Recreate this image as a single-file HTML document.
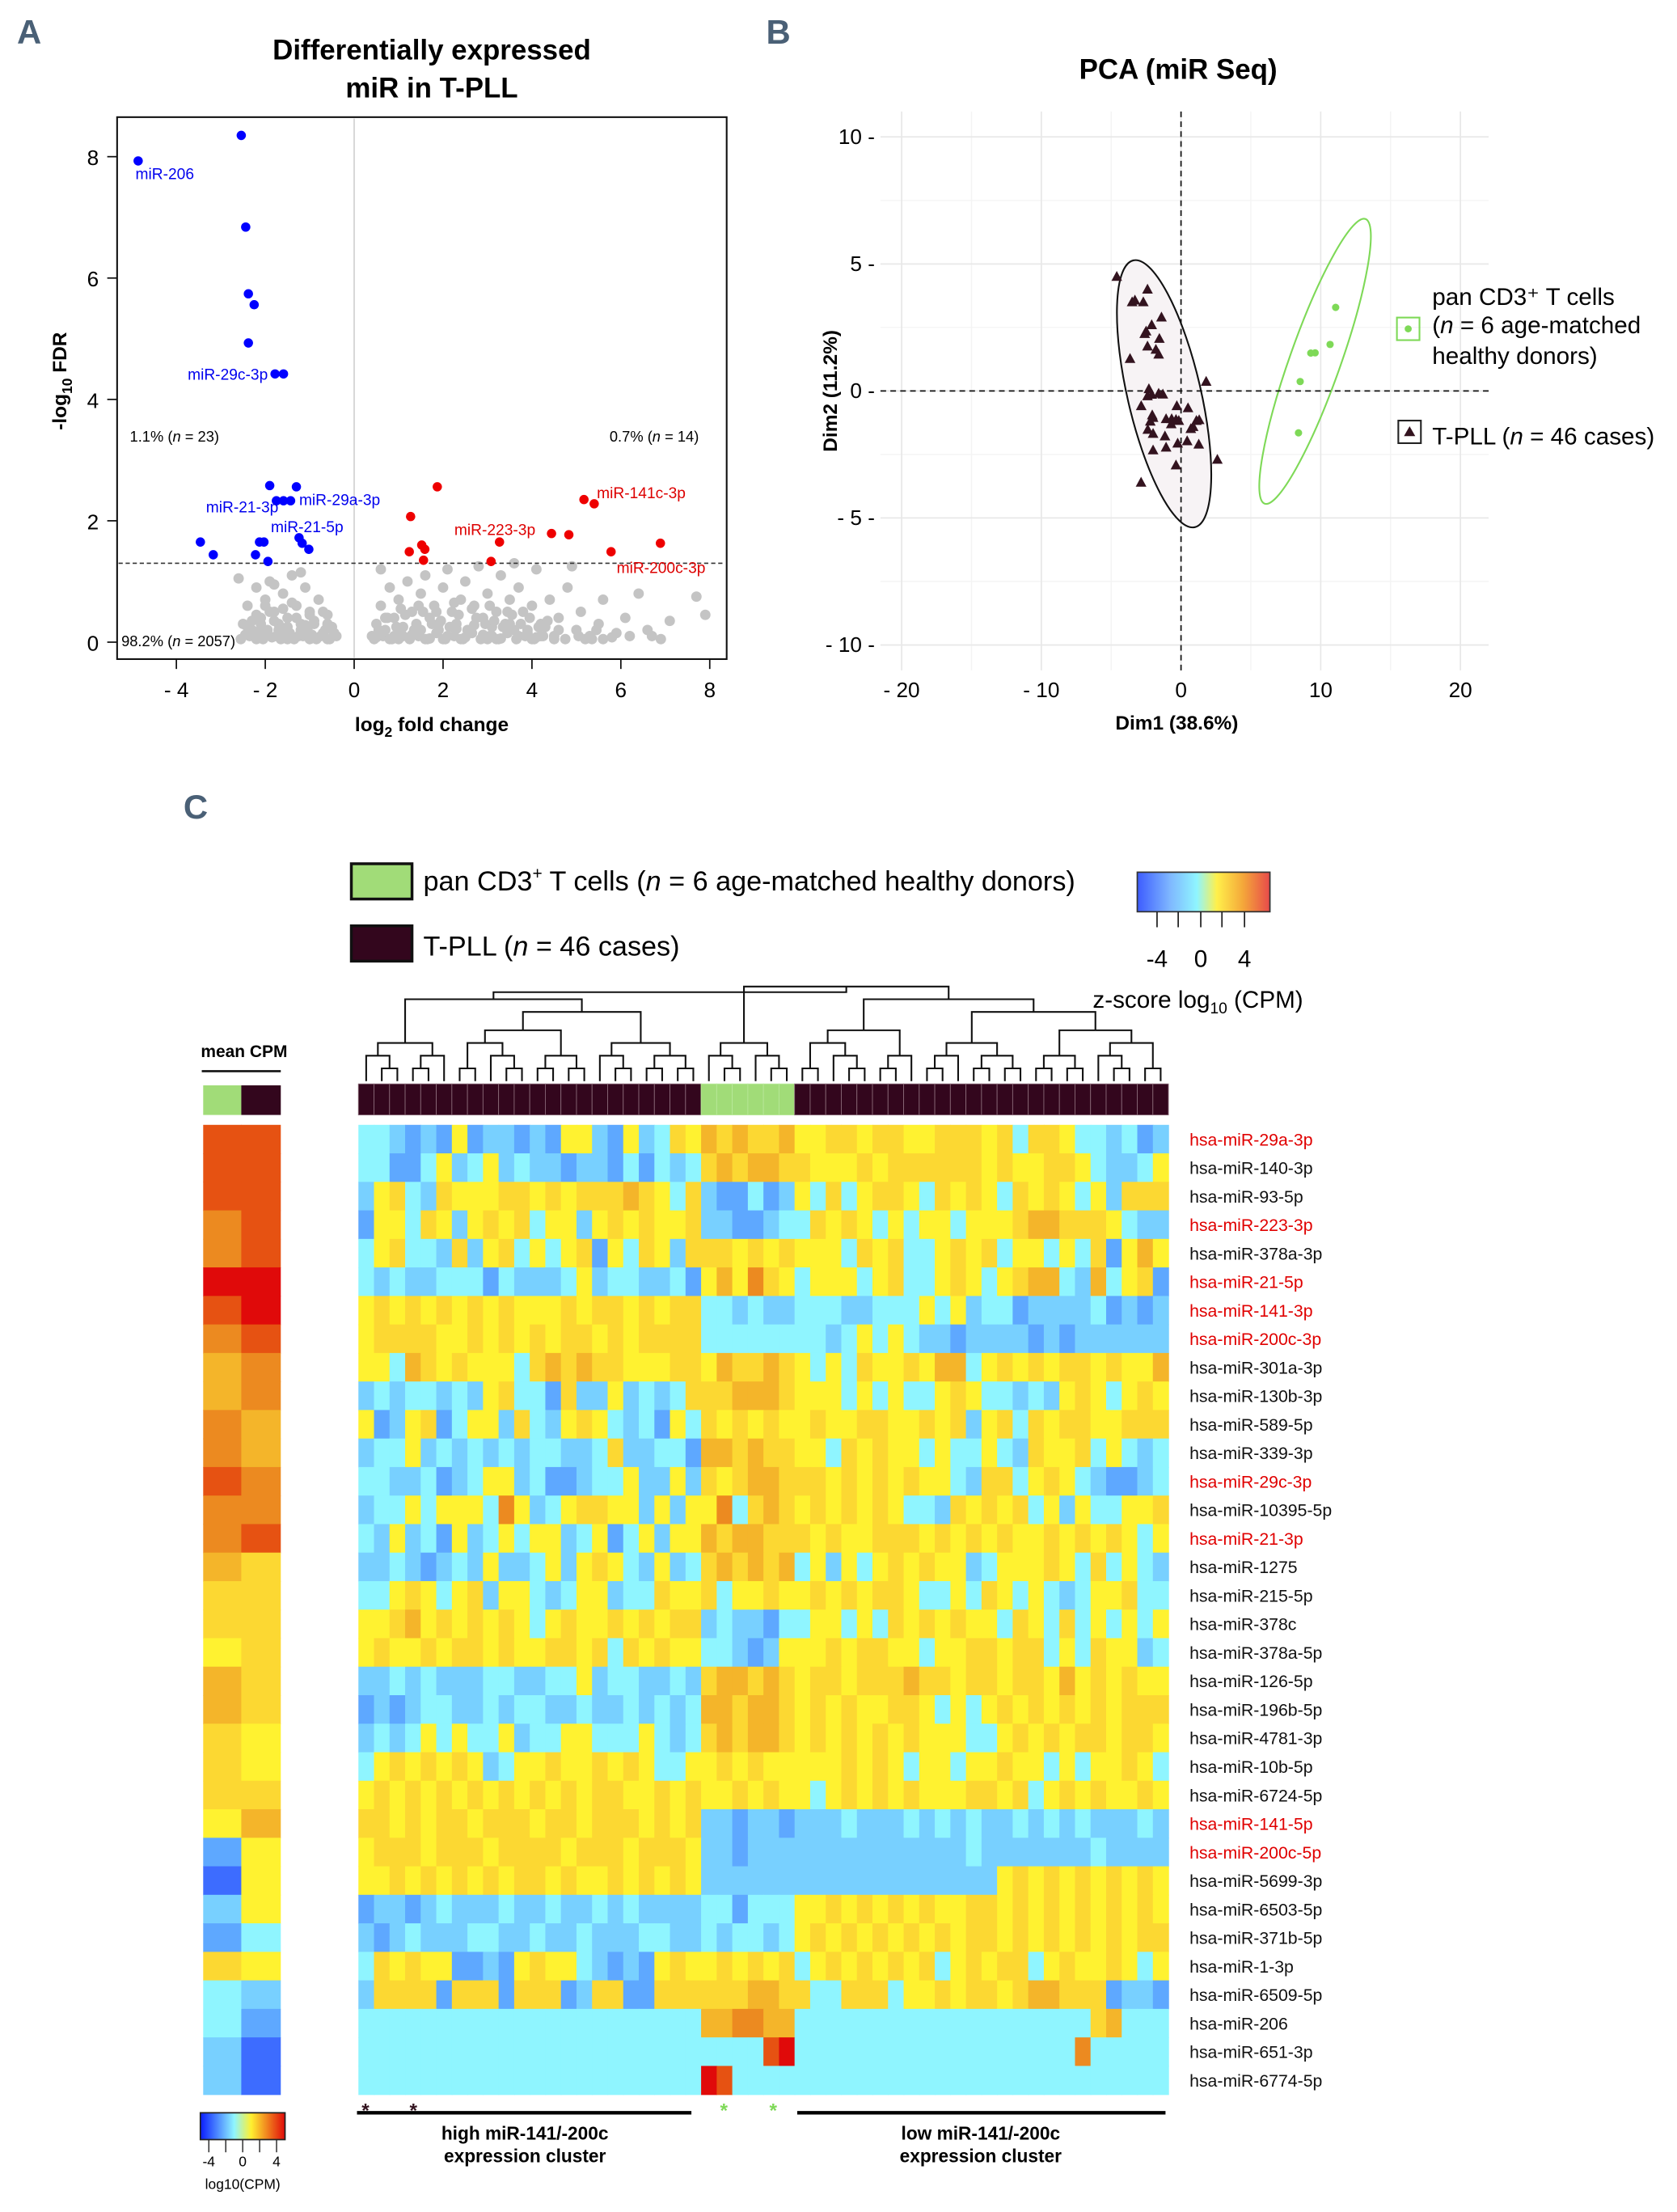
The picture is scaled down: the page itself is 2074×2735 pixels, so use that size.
<!DOCTYPE html>
<html><head><meta charset="utf-8">
<style>
html,body{margin:0;padding:0;background:#fff;}
svg{display:block;}
text{font-family:"Liberation Sans",sans-serif;}
.pl{font-family:"Liberation Sans Narrow","Liberation Sans",sans-serif;font-weight:bold;fill:#4a6076;font-size:24px;}
.nar{font-family:"Liberation Sans Narrow","Liberation Sans",sans-serif;}
</style></head>
<body>
<svg id="fig" width="2074" height="2735" viewBox="0 0 1188.5 1567.3" preserveAspectRatio="none" xmlns="http://www.w3.org/2000/svg">
<text class="pl" x="12" y="31">A</text>
<text x="306" y="42" text-anchor="middle" font-size="20" font-weight="bold">Differentially expressed</text>
<text x="306" y="69" text-anchor="middle" font-size="20" font-weight="bold">miR   in T-PLL</text>
<g id="volcano"></g>
<text transform="translate(47,270) rotate(-90)" text-anchor="middle" font-size="14" font-weight="bold">-log<tspan font-size="10" dy="4">10</tspan><tspan dy="-4"> FDR</tspan></text>
<text x="306" y="518" text-anchor="middle" font-size="14" font-weight="bold">log<tspan font-size="10" dy="4">2</tspan><tspan dy="-4"> fold change</tspan></text>
<text x="92" y="313" font-size="10.5">1.1% (<tspan font-style="italic">n</tspan> = 23)</text>
<text x="432" y="313" font-size="10.5">0.7% (<tspan font-style="italic">n</tspan> = 14)</text>
<text x="86" y="458" font-size="10.5">98.2% (<tspan font-style="italic">n</tspan> = 2057)</text>
<g font-size="11" fill="#0000ee">
<text x="96" y="127">miR-206</text>
<text x="133" y="269">miR-29c-3p</text>
<text x="146" y="363">miR-21-3p</text>
<text x="212" y="358">miR-29a-3p</text>
<text x="192" y="377">miR-21-5p</text>
</g>
<g font-size="11" fill="#dd0000">
<text x="322" y="379">miR-223-3p</text>
<text x="423" y="353">miR-141c-3p</text>
<text x="437" y="406">miR-200c-3p</text>
</g>

<text class="pl" x="543" y="31">B</text>
<text x="835" y="56" text-anchor="middle" font-size="20" font-weight="bold">PCA (miR Seq)</text>
<g id="pca"></g>
<text transform="translate(593,277) rotate(-90)" text-anchor="middle" font-size="14" font-weight="bold">Dim2 (11.2%)</text>
<text x="834" y="517" text-anchor="middle" font-size="14" font-weight="bold">Dim1 (38.6%)</text>
<g>
<rect x="990" y="225" width="16" height="16" fill="none" stroke="#7ed957" stroke-width="1.2"/>
<circle cx="998" cy="233" r="2.5" fill="#7ed957"/>
<text class="nar" x="1015" y="216" font-size="17">pan CD3⁺ T cells</text>
<text class="nar" x="1015" y="236" font-size="17">(<tspan font-style="italic">n</tspan> = 6 age-matched</text>
<text class="nar" x="1015" y="258" font-size="17">healthy donors)</text>
<rect x="991" y="298" width="16" height="16" fill="none" stroke="#222" stroke-width="1.2"/>
<path d="M999,302 L1003,309 L995,309 Z" fill="#33131f"/>
<text class="nar" x="1015" y="315" font-size="17">T-PLL (<tspan font-style="italic">n</tspan> = 46 cases)</text>
</g>

<text class="pl" x="130" y="580">C</text>
<rect x="249" y="612" width="43" height="25" fill="#a1dc78" stroke="#111" stroke-width="2"/>
<svg x="296" y="600" width="472" height="45" overflow="hidden"><text x="4" y="31" font-size="19.6">pan CD3<tspan font-size="12" dy="-8">+</tspan><tspan dy="8">  T cells (</tspan><tspan font-style="italic">n</tspan> = 6 age-matched healthy donors)</text></svg>
<rect x="249" y="656" width="43" height="25" fill="#33061d" stroke="#111" stroke-width="2"/>
<text x="300" y="677" font-size="19.6">T-PLL (<tspan font-style="italic">n</tspan> = 46 cases)</text>
<defs>
<linearGradient id="zg" x1="0" x2="1" y1="0" y2="0">
<stop offset="0" stop-color="#3d5cff"/><stop offset="0.25" stop-color="#7fb8ff"/><stop offset="0.45" stop-color="#8ff5ff"/><stop offset="0.6" stop-color="#fff04a"/><stop offset="0.8" stop-color="#f4a63a"/><stop offset="1" stop-color="#e84a4a"/>
</linearGradient>
<linearGradient id="cg" x1="0" x2="1" y1="0" y2="0">
<stop offset="0" stop-color="#0a1cff"/><stop offset="0.4" stop-color="#8ff5ff"/><stop offset="0.6" stop-color="#fff030"/><stop offset="1" stop-color="#e00a0a"/>
</linearGradient>
</defs>
<rect x="806" y="618" width="94" height="28" fill="url(#zg)" stroke="#333" stroke-width="1"/>
<g stroke="#222" stroke-width="1">
<line x1="820" y1="646" x2="820" y2="657"/><line x1="835" y1="646" x2="835" y2="657"/><line x1="851" y1="646" x2="851" y2="657"/><line x1="866" y1="646" x2="866" y2="657"/><line x1="882" y1="646" x2="882" y2="657"/>
</g>
<g font-size="17" text-anchor="middle">
<text x="820" y="685">-4</text>
<text x="851" y="685">0</text>
<text x="882" y="685">4</text>
</g>
<text x="849" y="714" text-anchor="middle" font-size="17">z-score log<tspan font-size="11" dy="4">10</tspan><tspan dy="-4"> (CPM)</tspan></text>
<text x="173" y="749" text-anchor="middle" font-size="12" font-weight="bold" class="nar">mean CPM</text>
<line x1="143" y1="759" x2="199" y2="759" stroke="#111" stroke-width="1.5"/>
<rect x="144" y="769" width="27" height="21" fill="#a1dc78"/>
<rect x="171" y="769" width="28" height="21" fill="#33061d"/>
<g id="heat"></g>
<g class="nar" font-weight="bold">
<text x="259" y="1500" font-size="14" text-anchor="middle" fill="#33131f">*</text>
<text x="293" y="1500" font-size="14" text-anchor="middle" fill="#33131f">*</text>
<text x="513" y="1500" font-size="14" text-anchor="middle" fill="#7ed957">*</text>
<text x="548" y="1500" font-size="14" text-anchor="middle" fill="#7ed957">*</text>
</g>
<line x1="253" y1="1497" x2="490" y2="1497" stroke="#000" stroke-width="2.5"/>
<line x1="565" y1="1497" x2="826" y2="1497" stroke="#000" stroke-width="2.5"/>
<g font-size="13" font-weight="bold" text-anchor="middle" class="nar">
<text x="372" y="1516">high miR-141/-200c</text>
<text x="372" y="1532">expression cluster</text>
<text x="695" y="1516">low miR-141/-200c</text>
<text x="695" y="1532">expression cluster</text>
</g>
<rect x="142" y="1497" width="60" height="19" fill="url(#cg)" stroke="#222" stroke-width="1"/>
<g stroke="#222" stroke-width="0.8">
<line x1="148" y1="1516" x2="148" y2="1525"/><line x1="160" y1="1516" x2="160" y2="1525"/><line x1="172" y1="1516" x2="172" y2="1525"/><line x1="184" y1="1516" x2="184" y2="1525"/><line x1="196" y1="1516" x2="196" y2="1525"/>
</g>
<g font-size="10" text-anchor="middle" class="nar">
<text x="148" y="1535">-4</text>
<text x="172" y="1535">0</text>
<text x="196" y="1535">4</text>
<text x="172" y="1551">log10(CPM)</text>
</g>
</svg>
<script>
// ===== Volcano data =====
const blueX = [-4.86,-2.54,-2.44,-2.38,-2.25,-2.38,-1.78,-1.59,-1.9,-1.75,-1.59,-1.43,-1.3,-3.46,-3.17,-2.13,-2.03,-2.22,-1.94,-1.24,-1.17,-1.02];
const blueY = [7.93,8.35,6.84,5.74,5.56,4.93,4.42,4.42,2.58,2.33,2.33,2.33,2.56,1.65,1.44,1.65,1.65,1.44,1.33,1.72,1.63,1.53];
const redX = [1.27,1.52,1.59,1.87,1.56,1.24,3.27,3.08,4.44,4.83,5.17,5.4,5.78,6.89];
const redY = [2.07,1.6,1.53,2.56,1.35,1.49,1.65,1.33,1.79,1.77,2.35,2.28,1.49,1.63];
const grayX = [-2.5,-2.4,-2.3,-2.2,-2.1,-2.0,-2.0,-1.9,-1.8,-1.7,-1.6,-1.5,-1.4,-1.3,-1.2,-1.1,-1.0,-0.9,-0.8,-0.7,-0.6,-0.5,-0.4,-1.5,-2.2,-1.0,-0.6,-1.8,-2.6,-1.2,-2.45,-2.15,-1.85,-1.55,-1.25,-0.95,-0.65,-2.3,-1.7,-1.1,
0.4,0.5,0.6,0.7,0.8,0.9,1.0,1.1,1.2,1.3,1.4,1.5,1.6,1.7,1.8,1.9,2.0,2.1,2.2,2.3,2.4,2.5,2.6,2.7,2.8,2.9,3.0,3.1,3.2,3.3,3.4,3.5,3.6,3.7,3.8,3.9,4.0,4.1,4.2,4.4,4.5,4.6,4.8,5.0,5.1,5.3,5.5,5.6,5.9,6.1,6.4,6.7,7.1,7.7,7.9,4.9,1.0,2.0,3.0,4.0,0.6,3.6,
0.5,0.9,1.3,1.7,2.1,2.5,2.9,3.3,3.7,4.1,4.5,1.1,1.5,1.9,2.3,2.7,3.1,3.5,3.9,4.3,0.7,5.2,5.8,6.9,
-2.55,-2.35,-2.25,-2.05,-1.95,-1.75,-1.65,-1.45,-1.35,-1.15,-1.05,-0.85,-0.75,-0.55,-0.45,-2.4,-2.1,-1.8,-1.5,-1.2,-0.9,-0.6,-2.2,-1.9,-1.6,-1.3,-1.0,-0.7,-2.0,-1.4,
0.45,0.65,0.85,1.05,1.25,1.45,1.65,1.85,2.05,2.25,2.45,2.65,2.85,3.05,3.25,3.45,3.65,3.85,4.05,4.25,0.55,0.95,1.35,1.75,2.15,2.55,2.95,3.35,3.75,4.15,0.75,1.15,1.55,1.95,2.35,2.75,3.15,3.55,3.95,4.35,4.6,4.75,5.05,5.35,5.45,1.05,1.45,1.85,2.25,2.65,3.05,3.45,0.8,1.6,2.4,3.2,4.2,5.6,6.2,6.6];
const grayY = [0.3,0.6,0.2,0.9,0.4,0.7,0.1,1.0,0.5,0.2,0.8,0.4,1.1,0.6,0.2,0.9,0.5,0.3,0.7,0.15,0.45,0.25,0.1,0.05,0.05,0.05,0.05,0.95,1.05,1.15,0.12,0.18,0.08,0.15,0.1,0.12,0.2,0.35,0.3,0.28,
0.1,0.3,0.6,0.2,0.9,0.4,0.7,0.1,1.0,0.5,0.3,0.8,1.1,0.4,0.6,0.2,0.9,1.2,0.5,0.3,0.7,1.0,0.2,0.6,1.25,0.4,0.8,0.1,0.5,1.1,0.3,0.7,0.2,0.9,0.5,0.15,0.6,1.2,0.3,0.7,0.1,0.4,0.9,0.2,0.5,0.1,0.3,0.7,0.15,0.4,0.8,0.1,0.35,0.75,0.45,1.25,0.05,0.05,0.05,0.05,1.2,1.3,
0.08,0.1,0.12,0.06,0.1,0.08,0.12,0.06,0.1,0.08,0.05,0.25,0.2,0.3,0.22,0.28,0.25,0.3,0.2,0.25,0.4,0.05,0.08,0.05,
0.05,0.1,0.15,0.05,0.2,0.1,0.05,0.15,0.05,0.1,0.2,0.05,0.1,0.05,0.15,0.25,0.3,0.35,0.25,0.3,0.35,0.3,0.45,0.5,0.55,0.4,0.45,0.5,0.6,0.65,
0.05,0.1,0.05,0.15,0.05,0.1,0.05,0.15,0.05,0.1,0.05,0.15,0.05,0.1,0.05,0.15,0.05,0.1,0.05,0.1,0.2,0.25,0.2,0.3,0.25,0.2,0.3,0.25,0.3,0.25,0.4,0.45,0.5,0.35,0.45,0.4,0.35,0.45,0.4,0.35,0.2,0.05,0.1,0.05,0.2,0.55,0.6,0.5,0.65,0.55,0.6,0.5,0.05,0.05,0.05,0.05,0.1,0.05,0.1,0.2];
const volXTicks = [-4,-2,0,2,4,6,8];
const volYTicks = [0,2,4,6,8];

// ===== PCA data =====
const tpllX = [-4.6,-2.4,-3.5,-3.3,-2.7,-1.4,-2.1,-2.5,-2.6,-1.55,-2.4,-1.8,-1.6,-3.65,1.8,-2.3,-2.1,-1.6,-1.3,-2.85,-0.3,0.5,-2.06,-2,-1.07,-0.67,-0.36,-0.16,1.1,1.3,-2.38,-2,0.87,0.7,-1.15,0.44,-0.24,1.27,-1.07,-2.0,2.6,-0.36,-2.86,-2.4,-2.2,-0.7];
const tpllY = [4.5,4.0,3.5,3.57,3.5,2.9,2.6,2.35,2.25,2.06,1.76,1.63,1.44,1.27,0.37,0.08,-0.14,-0.1,-0.13,-0.59,-0.59,-0.67,-0.95,-1.05,-1.1,-1.1,-1.13,-1.17,-1.17,-1.14,-1.52,-1.68,-1.41,-1.49,-1.78,-1.97,-2.06,-2.1,-2.22,-2.33,-2.7,-2.92,-3.6,-0.2,-1.2,-1.3];
const hdX = [11.07,10.67,9.29,8.53,8.41,9.6];
const hdY = [3.29,1.83,1.49,0.37,-1.65,1.5];
const pcaXTicks = [-20,-10,0,10,20];
const pcaYTicks = [-10,-5,0,5,10];

// ===== Heatmap data =====
const mirNames = ["hsa-miR-29a-3p","hsa-miR-140-3p","hsa-miR-93-5p","hsa-miR-223-3p","hsa-miR-378a-3p","hsa-miR-21-5p","hsa-miR-141-3p","hsa-miR-200c-3p","hsa-miR-301a-3p","hsa-miR-130b-3p","hsa-miR-589-5p","hsa-miR-339-3p","hsa-miR-29c-3p","hsa-miR-10395-5p","hsa-miR-21-3p","hsa-miR-1275","hsa-miR-215-5p","hsa-miR-378c","hsa-miR-378a-5p","hsa-miR-126-5p","hsa-miR-196b-5p","hsa-miR-4781-3p","hsa-miR-10b-5p","hsa-miR-6724-5p","hsa-miR-141-5p","hsa-miR-200c-5p","hsa-miR-5699-3p","hsa-miR-6503-5p","hsa-miR-371b-5p","hsa-miR-1-3p","hsa-miR-6509-5p","hsa-miR-206","hsa-miR-651-3p","hsa-miR-6774-5p"];
const redMirs = ["hsa-miR-29a-3p","hsa-miR-223-3p","hsa-miR-21-5p","hsa-miR-141-3p","hsa-miR-200c-3p","hsa-miR-29c-3p","hsa-miR-21-3p","hsa-miR-141-5p","hsa-miR-200c-5p"];
const zLevels = [
"3321214122121442142354"+"656556"+"445545544555453554332312",
"3311342342322122131323"+"565665"+"544454555555454455432234",
"2453254445545455565435"+"211312"+"435345543545435454342555",
"1443542454534424545445"+"221123"+"354543434434445665554322",
"3453325245343451435425"+"554545"+"444354533454534434351464",
"3232233313222342332231"+"464754"+"344434533454345663263451",
"4545454545444545545455"+"332322"+"333223334342331222231212",
"4555544545454554545555"+"333333"+"332343432212222121222222",
"4436545444356565544455"+"465565"+"434354454663454545545446",
"2323323245331522423235"+"556665"+"444343433454332324543454",
"4124513442532454323143"+"545454"+"454455445452453545544555",
"2334232323233223522331"+"665655"+"443545443433432544534323",
"3322312344231123342242"+"545665"+"554545454432553454321123",
"2334344437423455442424"+"473565"+"454545433254545342433445",
"3242314234344234134244"+"656655"+"545445554545454454545434",
"2232123242234245432423"+"565656"+"342434545442344454353432",
"3345434524432344233544"+"534454"+"454545543343543432344533",
"4456454545434544545455"+"232213"+"344343545454435435343434",
"4544545545445545354544"+"332124"+"445455443445545534354423",
"2232322233223342332232"+"566565"+"455455565545545546454544",
"1212332232332232232323"+"665665"+"454544554343454545454555",
"2323434334233443334323"+"565665"+"454545454443345454554554",
"3454545423445445454334"+"454544"+"444545434434454434344543",
"4545454545454545544545"+"445454"+"434545454445545345454454",
"5545455455545545554545"+"221221"+"222322232323223232322232",
"4555455545555455545554"+"221222"+"222222222223222222232222",
"4454545454554544545454"+"222222"+"222222222222245454545454",
"1221232223223223232222"+"331333"+"445454545445545454545454",
"2123222332232232223322"+"323323"+"454545454545545454545455",
"3545441121454432121454"+"454545"+"345454545345455345445434",
"2555515551555125511555"+"555665"+"533555344545545665551221",
"3333333333333333333333"+"667766"+"333333333333333333356333",
"3333333333333333333333"+"333389"+"333333333333333333733333",
"3333333333333333333333"+"983333"+"333333333333333333333333"
];
const meanHealthy = [8,8,8,7,7,9,8,7,6,6,7,7,8,7,7,6,5,5,4,6,6,5,5,5,4,1,0,2,1,5,3,3,2,2];
const meanTpll    = [8,8,8,8,8,9,9,8,7,7,6,6,7,7,8,5,5,5,5,5,5,4,4,5,6,4,4,4,3,4,2,1,0,0];

const NS = "http://www.w3.org/2000/svg";
function mk(tag, attrs, parent){
  const e = document.createElementNS(NS, tag);
  for (const k in attrs) e.setAttribute(k, attrs[k]);
  parent.appendChild(e);
  return e;
}

// ---------- Volcano ----------
const vol = document.getElementById('volcano');
const vx = v => 251 + v*31.5;
const vy = v => 455 - v*43;
let el;
el = mk('line',{x1:vx(0),y1:84,x2:vx(0),y2:466,stroke:'#c8c8c8','stroke-width':0.8},vol);


for (let i=0;i<grayX.length;i++){
  el = mk('circle',{cx:vx(grayX[i]),cy:vy(grayY[i]),r:3.7,fill:'#c4c4c4'},vol);
  
  
}
el = mk('line',{x1:84,y1:vy(1.3),x2:514,y2:vy(1.3),stroke:'#333','stroke-width':0.9,'stroke-dasharray':'3,2'},vol);


for (let i=0;i<blueX.length;i++){
  el = mk('circle',{cx:vx(blueX[i]),cy:vy(blueY[i]),r:3.3,fill:'#0000ff'},vol);
  
  
}
for (let i=0;i<redX.length;i++){
  el = mk('circle',{cx:vx(redX[i]),cy:vy(redY[i]),r:3.3,fill:'#ee0000'},vol);
  
  
}
el = mk('rect',{x:83,y:83,width:432,height:384,fill:'none',stroke:'#111','stroke-width':1.2},vol);


volXTicks.forEach(t=>{
  el = mk('line',{x1:vx(t),y1:467,x2:vx(t),y2:474,stroke:'#111','stroke-width':1},vol);
  
  
  el = mk('text',{x:vx(t),y:494,'text-anchor':'middle','font-size':15},vol);
  el.textContent = t<0 ? '- '+(-t) : String(t);
  
  
});
volYTicks.forEach(t=>{
  el = mk('line',{x1:76,y1:vy(t),x2:83,y2:vy(t),stroke:'#111','stroke-width':1},vol);
  
  
  el = mk('text',{x:70,y:vy(t)+6,'text-anchor':'end','font-size':15},vol);
  el.textContent = String(t);
  
  
});

// ---------- PCA ----------
const pca = document.getElementById('pca');
const px = v => 837 + v*9.9;
const py = v => 277 - v*18;
[-15,-5,5,15].forEach(t=>{
  el = mk('line',{x1:px(t),y1:79,x2:px(t),y2:475,stroke:'#f4f4f4','stroke-width':0.8},pca);
  
  
});
[-7.5,-2.5,2.5,7.5].forEach(t=>{
  el = mk('line',{x1:624,y1:py(t),x2:1055,y2:py(t),stroke:'#f4f4f4','stroke-width':0.8},pca);
  
  
});
pcaXTicks.forEach(t=>{
  el = mk('line',{x1:px(t),y1:79,x2:px(t),y2:475,stroke:'#e8e8e8','stroke-width':1},pca);
  
  
  el = mk('text',{x:px(t),y:494,'text-anchor':'middle','font-size':15,'class':'nar'},pca);
  el.textContent = t<0 ? '- '+(-t) : String(t);
  
  
});
pcaYTicks.forEach(t=>{
  el = mk('line',{x1:624,y1:py(t),x2:1055,y2:py(t),stroke:'#e8e8e8','stroke-width':1},pca);
  
  
  el = mk('text',{x:620,y:py(t)+5,'text-anchor':'end','font-size':15,'class':'nar'},pca);
  el.textContent = (t<0 ? '- '+(-t) : String(t)) + ' -';
  
  
});
el = mk('ellipse',{cx:825,cy:279,rx:97,ry:26,fill:'#f7f3f5',stroke:'#111','stroke-width':1.2,transform:'rotate(77 825 279)'},pca);


el = mk('ellipse',{cx:932,cy:256,rx:107,ry:18,fill:'none',stroke:'#7ed957','stroke-width':1.2,transform:'rotate(-70.5 932 256)'},pca);


el = mk('line',{x1:px(0),y1:79,x2:px(0),y2:475,stroke:'#111','stroke-width':1,'stroke-dasharray':'4,3'},pca);


el = mk('line',{x1:624,y1:py(0),x2:1055,y2:py(0),stroke:'#111','stroke-width':1,'stroke-dasharray':'4,3'},pca);


for (let i=0;i<tpllX.length;i++){
  const cx=px(tpllX[i]), cy=py(tpllY[i]);
  el = mk('path',{d:`M${cx},${cy-4} L${cx+3.8},${cy+3} L${cx-3.8},${cy+3} Z`,fill:'#33131f'},pca);
  
  
}
for (let i=0;i<hdX.length;i++){
  el = mk('circle',{cx:px(hdX[i]),cy:py(hdY[i]),r:2.6,fill:'#7ed957'},pca);
  
  
}

// ---------- Heatmap ----------
const heat = document.getElementById('heat');
const palette = ['#3d6cff','#5ea8ff','#78d0ff','#8ff5ff','#fff230','#fcd832','#f4b52a','#ec8a20','#e65212','#e00a0a'];
const hx0 = 254, cw = 11.04, hy0 = 797, rh = (1484-797)/34;
const nCols = 52;
const groupOf = c => (c>=22 && c<28) ? 'healthy' : 'tpll';
for (let r=0;r<zLevels.length;r++){
  const row = zLevels[r];
  for (let c=0;c<nCols;c++){
    el = mk('rect',{x:hx0+c*cw,y:hy0+r*rh,width:cw+0.4,height:rh+0.4,fill:palette[+row[c]]},heat);
    
    
  }
  el = mk('text',{x:843,y:hy0+r*rh+rh/2+4.5,'font-size':12.2,fill: redMirs.includes(mirNames[r]) ? '#e00000' : '#111'},heat);
  el.textContent = mirNames[r];
  
  
  el = mk('rect',{x:144,y:hy0+r*rh,width:27.3,height:rh+0.4,fill:palette[meanHealthy[r]]},heat);
  
  
  el = mk('rect',{x:171,y:hy0+r*rh,width:28,height:rh+0.4,fill:palette[meanTpll[r]]},heat);
  
  
}
for (let c=0;c<nCols;c++){
  const hc = groupOf(c)==='healthy';
  el = mk('rect',{x:hx0+c*cw,y:768,width:cw,height:22,fill: hc ? '#a1dc78' : '#33061d',stroke: hc ? '#b9e89a' : '#8a6a78','stroke-width':0.5},heat);
  
  
}
const L = [[["x",["x","x"]],[["x","x"],"x"]],[[[["x","x"],["x",["x","x"]]],[["x","x"],["x","x"]]],[["x",["x","x"]],[["x","x"],["x","x"]]]]];
const G = [["x",["x","x"]],["x",["x","x"]]];
const R = [[[["x","x"],["x",["x","x"]]],[["x","x"],"x"]],[[[["x","x"],"x"],[["x","x"],["x","x"]]],[[["x","x"],["x","x"]],[["x",["x","x"]],["x","x"]]]]];
const tree = [L,[G,R]];
let leafIdx = 0;
const dg = mk('g',{stroke:'#111','stroke-width':1.2,fill:'none'},heat);


function depth(n){ return n==="x" ? 0 : 1+Math.max(depth(n[0]),depth(n[1])); }
function draw(n, isRoot){
  if (n==="x"){ const x = hx0+(leafIdx+0.5)*cw; leafIdx++; return {x, y:766}; }
  const a = draw(n[0]), b = draw(n[1]);
  const y = isRoot ? 703 : 766 - 9*depth(n) + (depth(n)>=5 ? -4 : 0);
  el = mk('path',{d:`M${a.x},${a.y} V${y} H${b.x} V${b.y}`},dg);
  
  
  return {x:(a.x+b.x)/2, y};
}
draw(tree, true);
</script>
</body></html>
